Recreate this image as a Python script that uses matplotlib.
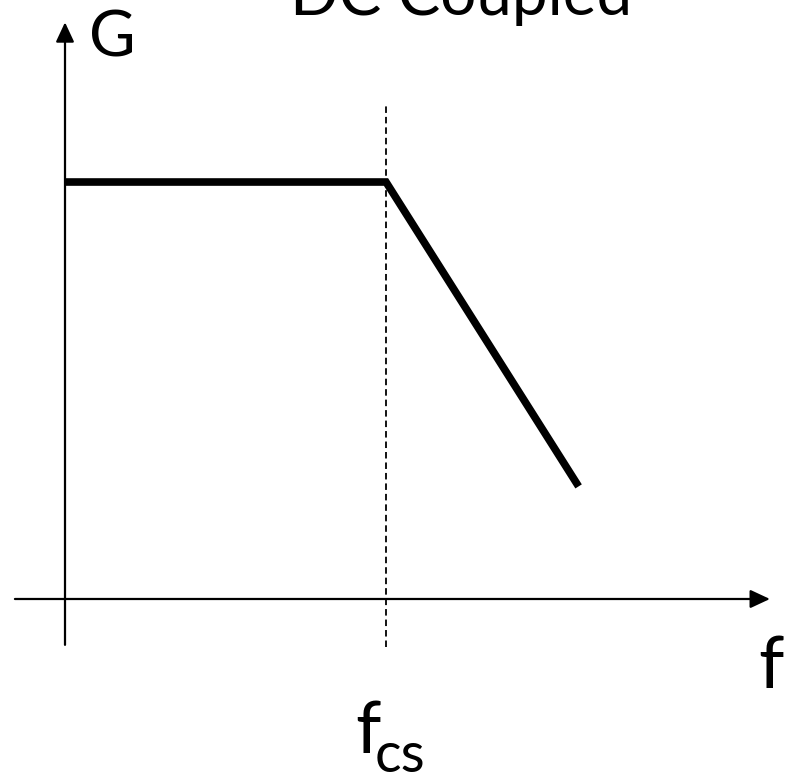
import matplotlib.pyplot as plt

# Bode-style sketch, DC coupled amplifier (frequency in units of f_cs, gain normalised)
freq = [0.0, 1.0, 1.6]
gain = [1.0, 1.0, 0.27]
f_cs = 1.0

title = "DC Coupled"
y_label = "G"
x_label = "f"
cutoff_label = "f"
cutoff_sub = "cs"

plt.rcParams["font.family"] = ["Lato", "DejaVu Sans"]

fig = plt.figure(figsize=(7.92, 7.75), dpi=100)
ax = fig.add_axes([0, 0, 1, 1])
ax.set_xlim(-0.2025, 2.2648)
ax.set_ylim(-0.4221, 1.4365)
ax.axis("off")

# axes with arrow heads
arrow = dict(arrowstyle="-|>,head_length=0.6,head_width=0.28", mutation_scale=20,
             lw=1.6, color="black", shrinkA=0, shrinkB=0)
ax.annotate("", xy=(0, 1.383), xytext=(0, -0.110), arrowprops=arrow)
ax.annotate("", xy=(2.196, 0), xytext=(-0.156, 0), arrowprops=arrow)

# cutoff marker
ax.plot([f_cs, f_cs], [-0.115, 1.185], color="black", lw=1.3, dashes=(3.6, 2.2))

# gain curve
ax.plot(freq, gain, color="black", lw=5.5, solid_capstyle="butt", solid_joinstyle="miter")

ax.text(0.075, 1.300, y_label, fontsize=46, ha="left", va="baseline")
ax.text(1.234, 1.400, title, fontsize=46, ha="center", va="baseline")
ax.text(2.160, -0.2134, x_label, fontsize=52, ha="left", va="baseline")
ax.text(0.905, -0.369, cutoff_label, fontsize=52, ha="left", va="baseline")
ax.text(0.965, -0.415, cutoff_sub, fontsize=40, ha="left", va="baseline")

fig.savefig("out.png", dpi=100)
